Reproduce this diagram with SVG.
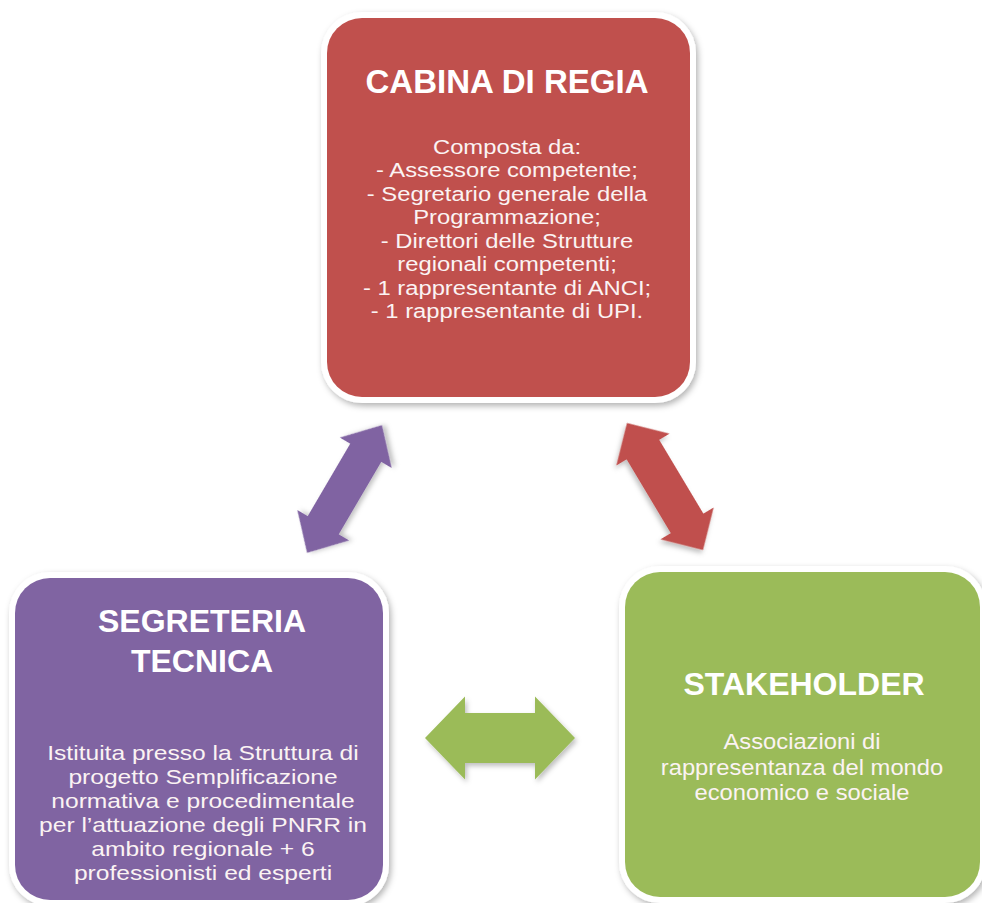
<svg xmlns="http://www.w3.org/2000/svg" width="982" height="903" viewBox="0 0 982 903">
  <defs>
    <filter id="sh" x="-10%" y="-10%" width="125%" height="125%">
      <feDropShadow dx="2" dy="3" stdDeviation="3" flood-color="#000000" flood-opacity="0.3"/>
    </filter>
    <filter id="ash" x="-20%" y="-20%" width="150%" height="150%">
      <feDropShadow dx="2" dy="3" stdDeviation="2.5" flood-color="#000000" flood-opacity="0.25"/>
    </filter>
    <style>
      .frame { fill: #ffffff; filter: url(#sh); }
      .title { font-family: "Liberation Sans", Arial, sans-serif; font-weight: bold; fill: #ffffff; text-anchor: middle; }
      .body { font-family: "Liberation Sans", Arial, sans-serif; fill: #fbf3f3; text-anchor: middle; }
      .red { fill: #c0504d; }
      .purple { fill: #8064a2; }
      .green { fill: #9bbb59; }
      .arrow { filter: url(#ash); }
    </style>
  </defs>
  <rect width="982" height="903" fill="#ffffff"/>

  <g id="connectors">
    <!-- purple: Segreteria <-> Cabina -->
    <polygon class="arrow purple" transform="translate(344.5,489) rotate(-59.6)"
      points="-74,0 -42,-30 -42,-18 42,-18 42,-30 74,0 42,30 42,18 -42,18 -42,30"/>
    <!-- red: Cabina <-> Stakeholder -->
    <polygon class="arrow red" transform="translate(665,486.5) rotate(59.1)"
      points="-74,0 -43,-31 -43,-19 43,-19 43,-31 74,0 43,31 43,19 -43,19 -43,31"/>
    <!-- green: Segreteria <-> Stakeholder -->
    <polygon class="arrow green" transform="translate(500,738)"
      points="-75,0 -35,-41.5 -35,-25 35,-25 35,-41.5 75,0 35,41.5 35,25 -35,25 -35,41.5"/>
  </g>

  <g id="cabina">
    <rect class="frame" x="321" y="12" width="375" height="391" rx="41"/>
    <rect class="red" x="327" y="18" width="363" height="379" rx="35"/>
    <text class="title" x="507" y="93" font-size="33">CABINA DI REGIA</text>
    <g transform="translate(507,0) scale(1.19,1)" font-size="20">
      <text class="body" x="0" y="154">Composta da:</text>
      <text class="body" x="0" y="177.5">- Assessore competente;</text>
      <text class="body" x="0" y="201">- Segretario generale della</text>
      <text class="body" x="0" y="224.5">Programmazione;</text>
      <text class="body" x="0" y="248">- Direttori delle Strutture</text>
      <text class="body" x="0" y="271.5">regionali competenti;</text>
      <text class="body" x="0" y="295">- 1 rappresentante di ANCI;</text>
      <text class="body" x="0" y="318.5">- 1 rappresentante di UPI.</text>
    </g>
  </g>

  <g id="segreteria">
    <rect class="frame" x="9" y="572" width="380" height="334" rx="41"/>
    <rect class="purple" x="15" y="578" width="368" height="322" rx="35"/>
    <text class="title" x="202" y="632" font-size="32">SEGRETERIA</text>
    <text class="title" x="202" y="672" font-size="32">TECNICA</text>
    <g transform="translate(203,0) scale(1.2,1)" font-size="20.5">
      <text class="body" x="0" y="760">Istituita presso la Struttura di</text>
      <text class="body" x="0" y="784">progetto Semplificazione</text>
      <text class="body" x="0" y="808">normativa e procedimentale</text>
      <text class="body" x="0" y="832">per l’attuazione degli PNRR in</text>
      <text class="body" x="0" y="856">ambito regionale + 6</text>
      <text class="body" x="0" y="880">professionisti ed esperti</text>
    </g>
  </g>

  <g id="stakeholder">
    <rect class="frame" x="619" y="566" width="367" height="337" rx="41"/>
    <rect class="green" x="625" y="572" width="355" height="325" rx="35"/>
    <text class="title" x="804" y="695" font-size="32">STAKEHOLDER</text>
    <g transform="translate(802,0) scale(1.08,1)" font-size="22">
      <text class="body" x="0" y="749">Associazioni di</text>
      <text class="body" x="0" y="775">rappresentanza del mondo</text>
      <text class="body" x="0" y="800.5">economico e sociale</text>
    </g>
  </g>
</svg>
